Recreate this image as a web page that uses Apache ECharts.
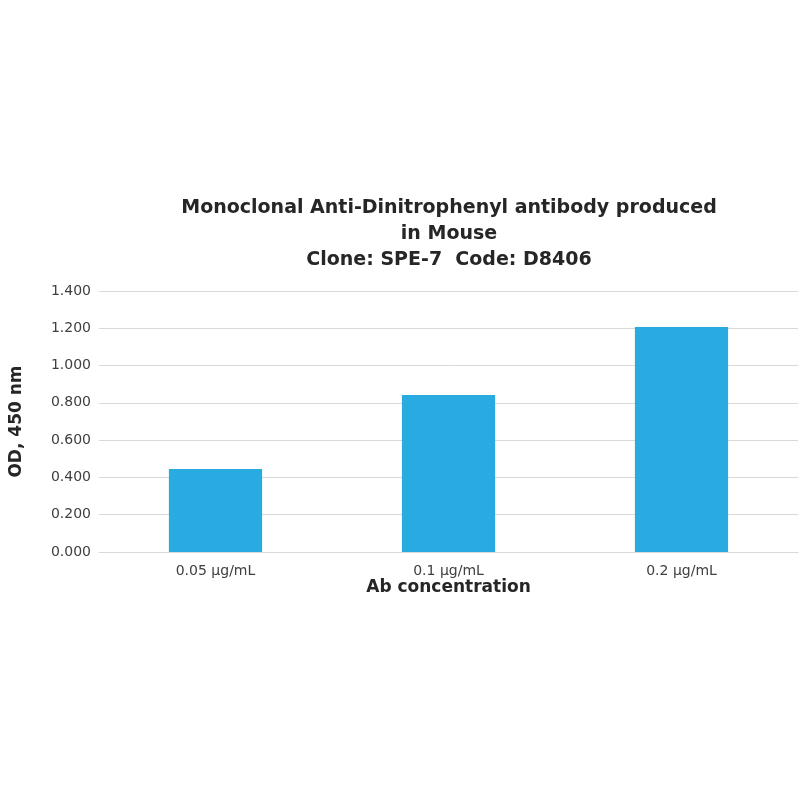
<!DOCTYPE html>
<html>
<head>
<meta charset="utf-8">
<script src="https://cdn.jsdelivr.net/npm/echarts@6/dist/echarts.min.js"></script>
<style>html,body{margin:0;background:#fff}#c{width:800px;height:800px}</style>
</head>
<body>
<div id="c"></div>
<script>
var categories = ['0.05 µg/mL', '0.1 µg/mL', '0.2 µg/mL'];
var odValues = [0.445, 0.842, 1.207];
var yTicks = { min: 0, max: 1.4, interval: 0.2 };

var chart = echarts.init(document.getElementById('c'));
chart.setOption({
  textStyle: { fontFamily: 'DejaVu Sans' },
  title: {
    text: 'Monoclonal Anti-Dinitrophenyl antibody produced\nin Mouse\nClone: SPE-7  Code: D8406',
    left: 444, top: 190, textAlign: 'center',
    textStyle: { fontSize: 19, fontWeight: 'bold', color: '#262626', lineHeight: 26 }
  },
  grid: { left: 90, right: 2, top: 291, bottom: 248, containLabel: false },
  xAxis: {
    type: 'category', data: categories,
    name: 'Ab concentration', nameLocation: 'middle', nameGap: 27,
    nameTextStyle: { fontSize: 17, fontWeight: 'bold', color: '#262626' },
    axisLine: { lineStyle: { color: '#d9d9d9' } },
    axisTick: { show: false },
    axisLabel: { fontSize: 14, color: '#404040', margin: 12 }
  },
  yAxis: {
    type: 'value', min: yTicks.min, max: yTicks.max, interval: yTicks.interval,
    name: 'OD, 450 nm', nameLocation: 'middle', nameGap: 74,
    nameTextStyle: { fontSize: 17, fontWeight: 'bold', color: '#262626' },
    axisLabel: { fontSize: 14, color: '#404040', formatter: function (v) { return v.toFixed(3); } },
    splitLine: { lineStyle: { color: '#d9d9d9' } }
  },
  series: [{
    type: 'bar', data: odValues, barWidth: '40%',
    itemStyle: { color: '#29abe2' }
  }]
});
</script>
</body>
</html>
